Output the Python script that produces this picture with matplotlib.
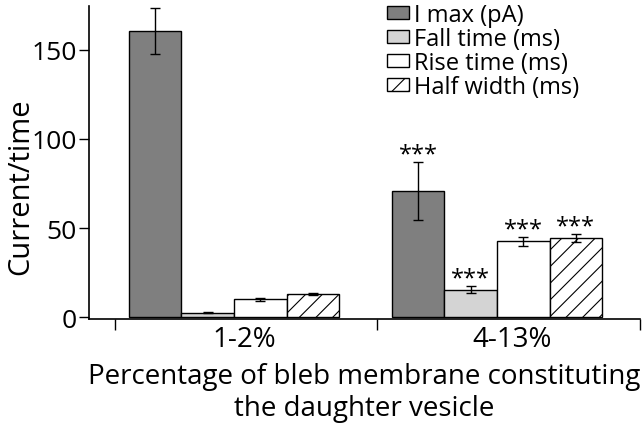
import matplotlib
matplotlib.use("Agg")
import matplotlib.pyplot as plt
import numpy as np

plt.rcParams['font.family'] = ['Open Sans', 'DejaVu Sans']
plt.rcParams['hatch.linewidth'] = 0.8

# data
groups = ['1-2%', '4-13%']
series = ['I max (pA)', 'Fall time (ms)', 'Rise time (ms)', 'Half width (ms)']
values = [[160.5, 70.8],
          [2.4, 15.3],
          [9.9, 42.5],
          [12.7, 44.6]]
errors = [[13.0, 16.5],
          [0.4, 2.0],
          [0.8, 2.4],
          [0.6, 2.2]]
stars = ['***', '***']  # only on the 4-13% group

colors = ['#7f7f7f', '#d4d4d4', 'white', 'white']
hatches = [None, None, None, '//']

fig = plt.figure(figsize=(6.44, 4.31), dpi=100)
ax = fig.add_axes([89/644, 111/431, 551/644, 313/431])

x = np.arange(len(groups))
w = 0.2
offs = [-0.3, -0.1, 0.1, 0.3]
for i in range(len(series)):
    ax.bar(x + offs[i], values[i], w, yerr=errors[i], color=colors[i],
           edgecolor='black', linewidth=1.0, hatch=hatches[i], label=series[i],
           error_kw=dict(ecolor='black', elinewidth=1.0, capsize=3.5, capthick=1.0))
    top = values[i][1] + errors[i][1]
    ax.text(x[1] + offs[i], top - 2.5, stars[1], ha='center', va='bottom', fontsize=17)

ax.set_xlim(-0.551, 1.544)
ax.set_ylim(-1.1, 174.7)
ax.spines['top'].set_visible(False)
ax.spines['right'].set_visible(False)
for s in ['left', 'bottom']:
    ax.spines[s].set_linewidth(1.2)

ax.set_yticks([0, 50, 100, 150])
ax.tick_params(axis='y', labelsize=19, length=7, width=1.0, pad=2)

# group boundaries as ticks, labels between them
ax.set_xticks([-0.452, 0.545, 1.544])
ax.set_xticklabels([])
ax.tick_params(axis='x', which='major', length=8, width=1.0)
ax.set_xticks(x + np.array([0.038, 0.057]), minor=True)
ax.set_xticklabels(groups, minor=True)
ax.tick_params(axis='x', which='minor', length=0, labelsize=20, pad=4)

ax.set_ylabel('Current/time', fontsize=21)
ax.yaxis.set_label_coords(-0.097, 0.425)
ax.set_xlabel('Percentage of bleb membrane constituting\nthe daughter vesicle',
              fontsize=20, labelpad=6.5, linespacing=1.2)

ax.legend(loc='upper left', bbox_to_anchor=(387/644, 1 - 4/431),
          bbox_transform=fig.transFigure, frameon=False, fontsize=17,
          handlelength=0.95, handleheight=0.5, handletextpad=0.2,
          labelspacing=0.0, borderpad=0, borderaxespad=0)

fig.savefig('out.png', dpi=100)
